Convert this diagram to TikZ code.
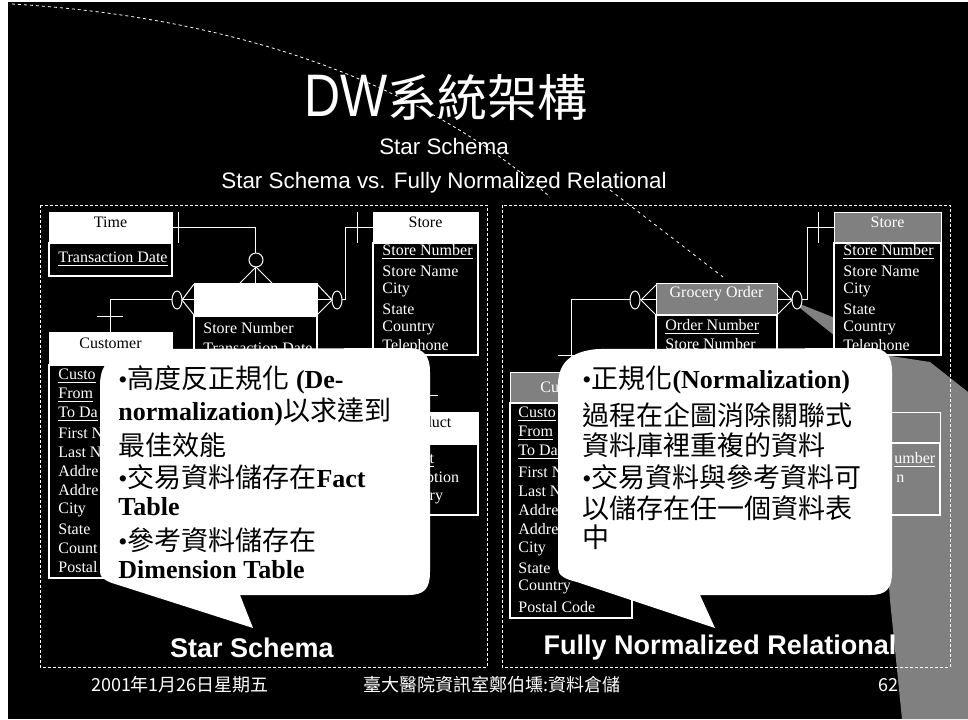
\documentclass[tikz,border=0pt]{standalone}
\usepackage{fontspec}
\setmainfont{Liberation Serif}
\newfontfamily\arialf{Liberation Sans}
\newfontfamily\cjkf{Noto Sans CJK TC}
\usetikzlibrary{fit,calc}
\newcommand\cjt[1]{{\cjkf\mdseries\fontsize{13.5}{15}\selectfont #1}}
\tikzset{
 tabhead/.style={draw=white, fill=white, text=black, inner sep=0pt, line width=0.5pt, font=\fontsize{8}{9.6}\selectfont},
 grayhead/.style={draw=white, fill=gray, text=white, inner sep=0pt, line width=0.5pt, font=\fontsize{8}{9.6}\selectfont},
 tabbody/.style={draw=white, fill=black, inner sep=0pt, line width=0.6pt},
 row/.style={anchor=west, inner sep=0pt, text=white, font=\fontsize{8}{9.6}\selectfont},
 conn/.style={draw=white, line width=0.5pt},
 panel/.style={draw=white, line width=0.4pt, dash pattern=on 1.5pt off 1pt},
 bubble/.style={fill=white},
 bubtxt/.style={anchor=west, inner sep=0pt, text=black, font=\fontsize{13}{15}\selectfont\bfseries},
 captiontxt/.style={text=white, inner sep=0pt, font=\arialf\bfseries\fontsize{13.5}{16}\selectfont},
 foot/.style={text=white, inner sep=0pt, font=\cjkf\fontsize{9}{11}\selectfont},
 subtxt/.style={text=white, inner sep=0pt, font=\arialf\fontsize{11.2}{13}\selectfont},
}
\begin{document}
\begin{tikzpicture}[x=0.5pt,y=-0.5pt]
\useasboundingbox (0,0) rectangle (968,719);
\fill[black] (0,0) rectangle (968,719);
\fill[white] (0,0) rectangle (8,719);
\fill[white] (8,0) rectangle (968,2);

% scan streak
\draw[white, line width=0.4pt, dash pattern=on 1.5pt off 1.5pt] (12,4) .. controls (250,18) and (430,90) .. (550,197);
\draw[white, line width=0.4pt, dash pattern=on 1.5pt off 2pt] (610,190) -- (723,277);

% gray scan noise
\fill[gray] (790,300) -- (835,318) -- (865,352) -- (930,362) -- (968,392) -- (968,719) -- (902,719) -- (890,600) -- (887,560) -- (890,380) -- cycle;

% title
\node[text=white, inner sep=0pt] (title) at (446,97) {\arialf\fontsize{25}{30}\selectfont\scalebox{1}[1.2]{DW}{\cjkf\fontsize{25}{30}\selectfont 系統架構}};
\node[subtxt] (sub1) at (444,146) {Star Schema};
\node[subtxt] (sub2) at (444,183) {Star Schema vs. Fully Normalized Relational};

% panels
\draw[panel] (40,205) rectangle (487,667);
\draw[panel] (502,205) rectangle (950,667);

% ---- left panel tables
\node[tabhead, fit={(49,212)(172,243)}] (timeH) {Time};
\node[tabbody, fit={(49,243)(172,276)}] (timeB) {};
\node[row] (timeR1) at (58,259) {\underline{Transaction Date}};

\node[tabhead, fit={(373,212)(478,243)}] (storeH) {Store};
\node[tabbody, fit={(373,243)(478,355)}] (storeB) {};
\node[row] (st1) at (382,252) {\underline{Store Number}};
\node[row] (st2) at (382,271) {Store Name};
\node[row] (st3) at (382,290) {City};
\node[row] (st4) at (382,309) {State};
\node[row] (st5) at (382,328) {Country};
\node[row] (st6) at (382,347) {Telephone};

\node[tabhead, fit={(194,283)(317,316)}] (factH) {};
\node[tabbody, fit={(194,316)(317,420)}] (factB) {};
\node[row] (fa1) at (203,328) {Store Number};
\node[row] (fa2) at (203,348) {Transaction Date};

\node[tabhead, fit={(49,332)(172,365)}] (custH) {Customer};
\node[tabbody, fit={(49,365)(172,578)}] (custB) {};
\node[row] (cu1) at (58,376) {\underline{Custo}};
\node[row] (cu2) at (58,395) {\underline{From}};
\node[row] (cu3) at (58,414) {\underline{To Da}};
\node[row] (cu4) at (58,433) {First N};
\node[row] (cu5) at (58,452) {Last N};
\node[row] (cu6) at (58,471) {Addre};
\node[row] (cu7) at (58,490) {Addre};
\node[row] (cu8) at (58,510) {City};
\node[row] (cu9) at (58,529) {State};
\node[row] (cu10) at (58,548) {Count};
\node[row] (cu11) at (58,567) {Postal};

\node[tabhead, fit={(375,412)(478,444)}] (prodH) {Product};
\node[tabbody, fit={(375,444)(478,515)}] (prodB) {};
\node[row] (pr1) at (384,460) {\underline{Product}};
\node[row] (pr2) at (384,479) {Description};
\node[row] (pr3) at (384,497) {Category};

% left connectors
\coordinate (sk) at (345,227.5);
\coordinate (pk) at (422,380);
\draw[conn] (timeH.east) -| (factH.north);
\draw[conn] (storeH.west) -- (sk) |- (factH.east);
\draw[conn] (factH.west) -| (custH.north);
\draw[conn] (factB.east |- pk) -- (pk) |- (prodH.north);
\draw[conn] (178,212) -- (178,243);
\draw[conn, fill=black] (256,260) circle[radius=3.5pt];
\draw[conn] (240,283) -- (256,267) -- (272,283);
\draw[conn] (357,212) -- (357,243);
\draw[conn, fill=black] (337,300) ellipse[x radius=2.5pt, y radius=4.5pt];
\draw[conn] (317,284) -- (332,300) -- (317,315);
\draw[conn, fill=black] (177,300) ellipse[x radius=2.5pt, y radius=4.5pt];
\draw[conn] (194,284) -- (182,300) -- (194,315);
\draw[conn] (97,316) -- (123,316);
\draw[conn] (412,395) -- (438,395);

% ---- right panel tables
\node[grayhead, fit={(834,212)(941,243)}] (rstoreH) {Store};
\node[tabbody, fit={(834,243)(941,355)}] (rstoreB) {};
\node[row] (rs1) at (843,252) {\underline{Store Number}};
\node[row] (rs2) at (843,271) {Store Name};
\node[row] (rs3) at (843,290) {City};
\node[row] (rs4) at (843,309) {State};
\node[row] (rs5) at (843,328) {Country};
\node[row] (rs6) at (843,347) {Telephone};

\node[grayhead, fit={(656,283)(777,315)}] (orderH) {Grocery Order};
\node[tabbody, fit={(656,315)(777,420)}] (orderB) {};
\node[row] (or1) at (665,327) {\underline{Order Number}};
\node[row] (or2) at (665,346) {\underline{Store Number}};

\node[grayhead, fit={(510,372)(632,403)}] (rcustH) {};
\node[row, text=white] (rcuT) at (540,387.5) {Cu};
\node[tabbody, fit={(510,403)(632,618)}] (rcustB) {};
\node[row] (rc1) at (518,414) {\underline{Custo}};
\node[row] (rc2) at (518,433) {\underline{From}};
\node[row] (rc3) at (518,452) {\underline{To Da}};
\node[row] (rc4) at (518,472) {First N};
\node[row] (rc5) at (518,491) {Last N};
\node[row] (rc6) at (518,510) {Addre};
\node[row] (rc7) at (518,529) {Addre};
\node[row] (rc8) at (518,549) {City};
\node[row] (rc9) at (518,568) {State};
\node[row] (rc10) at (518,587) {Country};
\node[row] (rc11) at (518,607) {Postal Code};

\node[grayhead, fit={(820,412)(940,443)}] (rprodH) {};
\node[tabbody, fill=gray, fit={(820,443)(940,515)}] (rprodB) {};
\node[row] (rp1) at (894,460) {\underline{umber}};
\node[row] (rp2) at (896,479) {n};

% right connectors
\coordinate (rsk) at (807,227.5);
\coordinate (rpk) at (800,400);
\draw[conn] (rstoreH.west) -- (rsk) |- (orderH.east);
\draw[conn] (orderH.west) -| (rcustH.north);
\draw[conn] (orderB.east |- rpk) -- (rpk) |- (rprodH.west);
\draw[conn] (818,212) -- (818,243);
\draw[conn, fill=black] (797,300) ellipse[x radius=2.5pt, y radius=4.5pt];
\draw[conn] (777,285) -- (792,300) -- (777,315);
\draw[conn, fill=black] (635,300) ellipse[x radius=2.5pt, y radius=4.5pt];
\draw[conn] (656,285) -- (641,300) -- (656,315);
\draw[conn] (558,355) -- (585,355);

% ---- speech bubbles
\fill[bubble] (100,572) -- (100,385) .. controls (100,362) and (114,351) .. (140,349) -- (408,348)
  .. controls (424,348) and (430,356) .. (430,372) -- (430,572) .. controls (430,589) and (424,595) .. (408,595)
  -- (240,595) -- (253,628) -- (112,583) .. controls (104,580) and (100,577) .. (100,572) -- cycle;
\fill[bubble] (558,568) -- (558,385) .. controls (558,362) and (572,351) .. (598,349) -- (870,348)
  .. controls (886,348) and (892,356) .. (892,372) -- (892,572) .. controls (892,589) and (886,595) .. (870,595)
  -- (700,595) -- (715,628) -- (577,582) .. controls (564,579) and (558,575) .. (558,568) -- cycle;

\node[bubtxt] (bl1) at (118,380) {{\mdseries•}\cjt{高度反正規化} (De-};
\node[bubtxt] (bl2) at (118,412) {normalization)\cjt{以求達到}};
\node[bubtxt] (bl3) at (118,445) {\cjt{最佳效能}};
\node[bubtxt] (bl4) at (118,477) {{\mdseries•}\cjt{交易資料儲存在}Fact};
\node[bubtxt] (bl5) at (118,507) {Table};
\node[bubtxt] (bl6) at (118,540) {{\mdseries•}\cjt{參考資料儲存在}};
\node[bubtxt] (bl7) at (118,570) {Dimension Table};

\node[bubtxt] (br1) at (582,380) {{\mdseries•}\cjt{正規化}(Normalization)};
\node[bubtxt] (br2) at (582,415) {\cjt{過程在企圖消除關聯式}};
\node[bubtxt] (br3) at (582,445) {\cjt{資料庫裡重複的資料}};
\node[bubtxt] (br4) at (582,477) {{\mdseries•}\cjt{交易資料與參考資料可}};
\node[bubtxt] (br5) at (582,508) {\cjt{以儲存在任一個資料表}};
\node[bubtxt] (br6) at (582,537) {\cjt{中}};

% captions
\node[captiontxt] (capL) at (252,648) {Star Schema};
\node[captiontxt] (capR) at (720,648) {Fully Normalized Relational};

% footer
\node[foot] (date) at (180,685) {2001年1月26日星期五};
\node[foot] (org) at (492,685) {臺大醫院資訊室鄭伯壎:資料倉儲};
\node[foot] (page) at (888,685) {62};
\end{tikzpicture}
\end{document}
